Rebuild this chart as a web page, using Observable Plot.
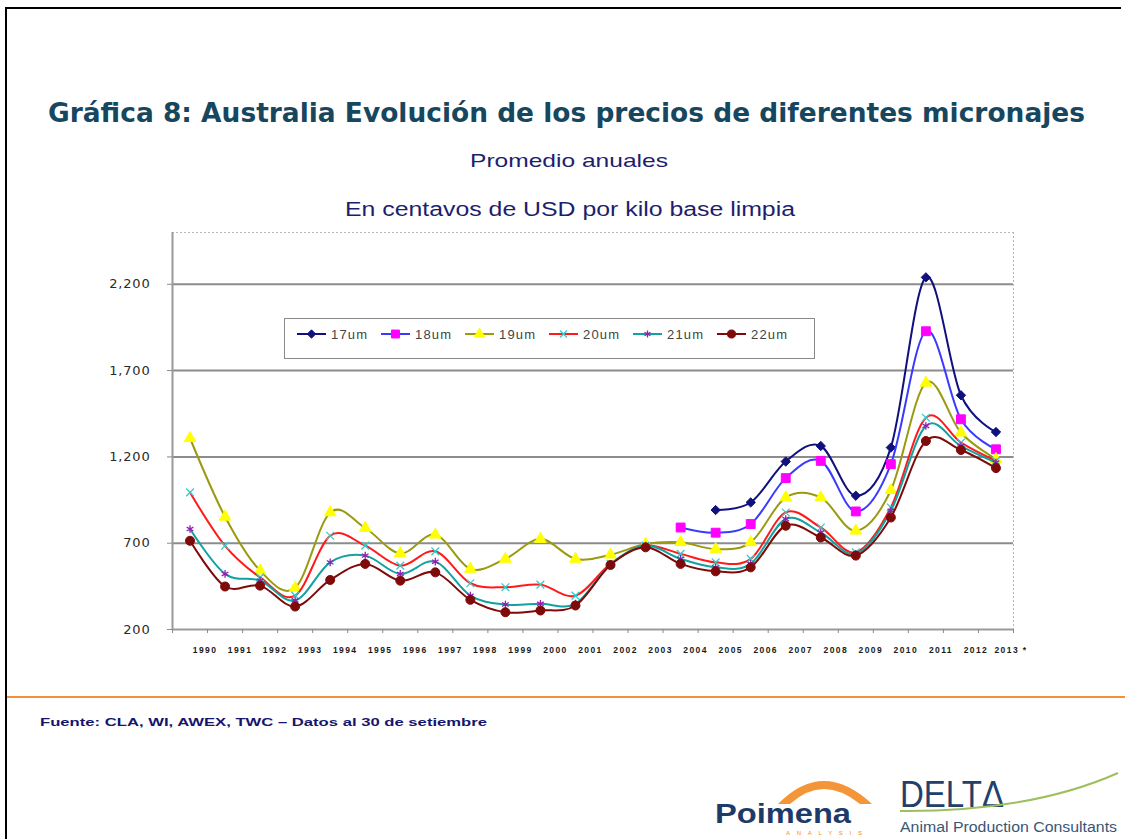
<!DOCTYPE html>
<html><head><meta charset="utf-8">
<script src="https://cdn.jsdelivr.net/npm/d3@7"></script>
<script src="https://cdn.jsdelivr.net/npm/@observablehq/plot@0.6"></script>
<style>
body{margin:0;width:1125px;height:839px;position:relative;overflow:hidden;background:#fff;font-family:"Liberation Sans",Arial,sans-serif;}
.abs{position:absolute;white-space:nowrap;line-height:1;transform-origin:0 0;}
#chart{position:absolute;left:0;top:200px;}
#chart g[aria-label="y-axis tick label"] text{letter-spacing:0.8px;}
#chart g[aria-label="x-axis tick label"] text{letter-spacing:1.4px;}
#legend{position:absolute;left:284px;top:318px;width:529px;height:39px;border:1px solid #8a8a8a;background:#fff;}
</style></head><body>
<div class="abs" style="left:5px;top:7px;width:1116px;height:2px;background:#000"></div>
<div class="abs" style="left:5px;top:7px;width:2px;height:832px;background:#000"></div>
<div id="title" class="abs" style="left:48px;top:99px;font-size:27px;font-weight:bold;font-family:'DejaVu Sans',Verdana,sans-serif;color:#17475e;">Gráfica 8: Australia Evolución de los precios de diferentes micronajes</div>
<div id="sub1" class="abs" style="left:470px;top:151px;font-size:19px;color:#1e1e6e;">Promedio anuales</div>
<div id="sub2" class="abs" style="left:345px;top:199px;font-size:20px;color:#1e1e6e;">En centavos de USD por kilo base limpia</div>
<div id="chart"></div>
<div id="legend"></div>
<div class="abs" style="left:7px;top:696px;width:1118px;height:2px;background:#f29236"></div>
<div id="foot" class="abs" style="left:40px;top:717px;font-size:11px;font-weight:bold;color:#15156e;">Fuente: CLA, WI, AWEX, TWC – Datos al 30 de setiembre</div>
<svg class="abs" style="left:700px;top:760px" width="425" height="79">
  <path d="M78 44 Q123 -2 172 44 L160 44 Q123 14 90 44 Z" fill="#f28a22" opacity="0.9"/>
  <text x="15" y="63" font-family="Liberation Sans" font-weight="bold" font-size="27" fill="#1d3a68" textLength="136" lengthAdjust="spacingAndGlyphs">Poimena</text>
  <text x="86" y="75" font-family="Liberation Sans" font-size="6" fill="#f28a22" textLength="76" lengthAdjust="spacing">ANALYSIS</text>
  <text x="200" y="47" font-family="Liberation Sans" font-size="37" fill="#22406a" textLength="104" lengthAdjust="spacingAndGlyphs">DELTΔ</text>
  <path d="M200 51 Q330 52 418 13" stroke="#9dbf5e" stroke-width="2" fill="none"/>
  <text x="200" y="72" font-family="Liberation Sans" font-size="14" fill="#3a5578" textLength="217" lengthAdjust="spacingAndGlyphs">Animal Production Consultants</text>
</svg>
<script>
// ---- data ----
const years = [1990,1991,1992,1993,1994,1995,1996,1997,1998,1999,2000,2001,2002,2003,2004,2005,2006,2007,2008,2009,2010,2011,2012,2013];
const yearLabels = ["1990","1991","1992","1993","1994","1995","1996","1997","1998","1999","2000","2001","2002","2003","2004","2005","2006","2007","2008","2009","2010","2011","2012","2013 *"];
const seriesNames = ["17um","18um","19um","20um","21um","22um"];
const v17 = [null,null,null,null,null,null,null,null,null,null,null,null,null,null,null,892,936,1173,1263,975,1254,2240,1557,1344];
const v18 = [null,null,null,null,null,null,null,null,null,null,null,null,null,null,791,761,811,1077,1177,884,1158,1928,1418,1244];
const v19 = [1308,853,541,441,878,788,641,749,551,609,724,609,633,695,705,666,705,965,965,772,1007,1629,1340,1187];
const v20 = [994,685,502,396,743,686,570,653,468,445,460,396,580,686,638,589,609,878,791,647,907,1427,1283,1177];
const v21 = [782,522,483,368,589,628,522,593,396,345,349,350,577,686,609,560,580,840,762,638,888,1379,1263,1167];
const v22 = [714,449,454,333,487,580,483,531,372,300,310,339,574,676,580,537,560,801,733,628,849,1292,1240,1135];
const yTicks = [200,700,1200,1700,2200];
const yGrid = [700,1200,1700,2200];

// ---- styles ----
const styles = [
  {name:"17um", values:v17, line:"#10107e", symbol:"diamond2", fill:"#10107e", stroke:"#10107e", r:4.2, sw:1},
  {name:"18um", values:v18, line:"#3a3aff", symbol:"square", fill:"#ff00ff", stroke:"#ff00ff", r:5, sw:1},
  {name:"19um", values:v19, line:"#9a9a10", symbol:"triangle", fill:"#ffff00", stroke:"#ffff00", r:4.3, sw:1},
  {name:"20um", values:v20, line:"#ff1a1a", symbol:"times", fill:"none", stroke:"#33cccc", r:3.6, sw:1.3},
  {name:"21um", values:v21, line:"#12a0a0", symbol:"asterisk", fill:"none", stroke:"#9020b0", r:3.6, sw:1.3},
  {name:"22um", values:v22, line:"#7e0a0a", symbol:"circle", fill:"#7e0a0a", stroke:"#7e0a0a", r:4.5, sw:1}
];

const rows = [];
styles.forEach(s => years.forEach((yr,i) => rows.push({year:yr, value:s.values[i], series:s.name})));
const labelOf = new Map(years.map((y,i)=>[y, yearLabels[i]]));
const bounds = years.map(y=>y-0.5).concat([years[years.length-1]+0.5]);
const xDom = [bounds[0], bounds[bounds.length-1]];
const yDom = [200, 2500];

const marks = [
  Plot.ruleY(yGrid, {stroke:"#8c8c8c", strokeWidth:2}),
  Plot.ruleY([yDom[1]], {stroke:"#b8b8b8", strokeDasharray:"2,2"}),
  Plot.ruleX([xDom[1]], {stroke:"#b8b8b8", strokeDasharray:"2,2"}),
  Plot.ruleX([xDom[0]], {stroke:"#9a9a9a", strokeWidth:2}),
  Plot.ruleY([yDom[0]], {stroke:"#9a9a9a", strokeWidth:2}),
  Plot.axisY(yTicks, {tickSize:5, tickPadding:17, tickFormat:d3.format(","), fontSize:13, fontFamily:"DejaVu Sans", fill:"#2a2a2a", stroke:"#8a8a8a", label:null}),
  Plot.axisX(bounds, {tickSize:4, tickFormat:()=>"", stroke:"#8a8a8a", label:null}),
  Plot.axisX(years, {tickSize:0, tickPadding:17, dx:15, tickFormat:d=>labelOf.get(d), fontSize:8.5, fontWeight:"bold", fill:"#1a1a1a", label:null})
];
styles.forEach(s => {
  const d = rows.filter(r => r.series === s.name);
  marks.push(Plot.line(d, {x:"year", y:"value", stroke:s.line, strokeWidth:2, curve:"cardinal", tension:0}));
  marks.push(Plot.dot(d.filter(r=>r.value!=null), {x:"year", y:"value", symbol:s.symbol, r:s.r, fill:s.fill, stroke:s.stroke, strokeWidth:s.sw}));
});

const chart = Plot.plot({
  width:1125, height:460,
  marginLeft:172, marginRight:112, marginTop:32, marginBottom:31,
  x:{type:"linear", domain:xDom, axis:null, label:null},
  y:{domain:yDom, axis:null, label:null},
  style:{fontFamily:"Liberation Sans, Arial, sans-serif", background:"transparent", overflow:"visible"},
  marks
});
document.getElementById("chart").appendChild(chart);

// ---- legend ----
const symMap = {diamond2:d3.symbolDiamond2, square:d3.symbolSquare, triangle:d3.symbolTriangle, times:d3.symbolTimes, asterisk:d3.symbolAsterisk, circle:d3.symbolCircle};
const lg = d3.select("#legend").append("svg").attr("width",529).attr("height",39);
styles.forEach((s,i) => {
  const x0 = 12 + i*84, yc = 15;
  lg.append("line").attr("x1",x0).attr("x2",x0+29).attr("y1",yc).attr("y2",yc).attr("stroke",s.line).attr("stroke-width",2);
  lg.append("path").attr("transform",`translate(${x0+14.5},${yc})`)
    .attr("d", d3.symbol(symMap[s.symbol], Math.PI*s.r*s.r*0.8)())
    .attr("fill", s.fill).attr("stroke", s.stroke).attr("stroke-width", s.sw);
  lg.append("text").attr("x",x0+34).attr("y",yc+4.5).attr("font-size",13).attr("fill","#444")
    .attr("font-family","Liberation Sans").attr("letter-spacing","1.2px").text(s.name);
});

// ---- fit header/footer text widths ----
function fit(id, w){ const el=document.getElementById(id); const cw=el.getBoundingClientRect().width; el.style.transform=`scaleX(${w/cw})`; }
fit("title",1037); fit("sub1",198); fit("sub2",450); fit("foot",447);
</script>
</body></html>
